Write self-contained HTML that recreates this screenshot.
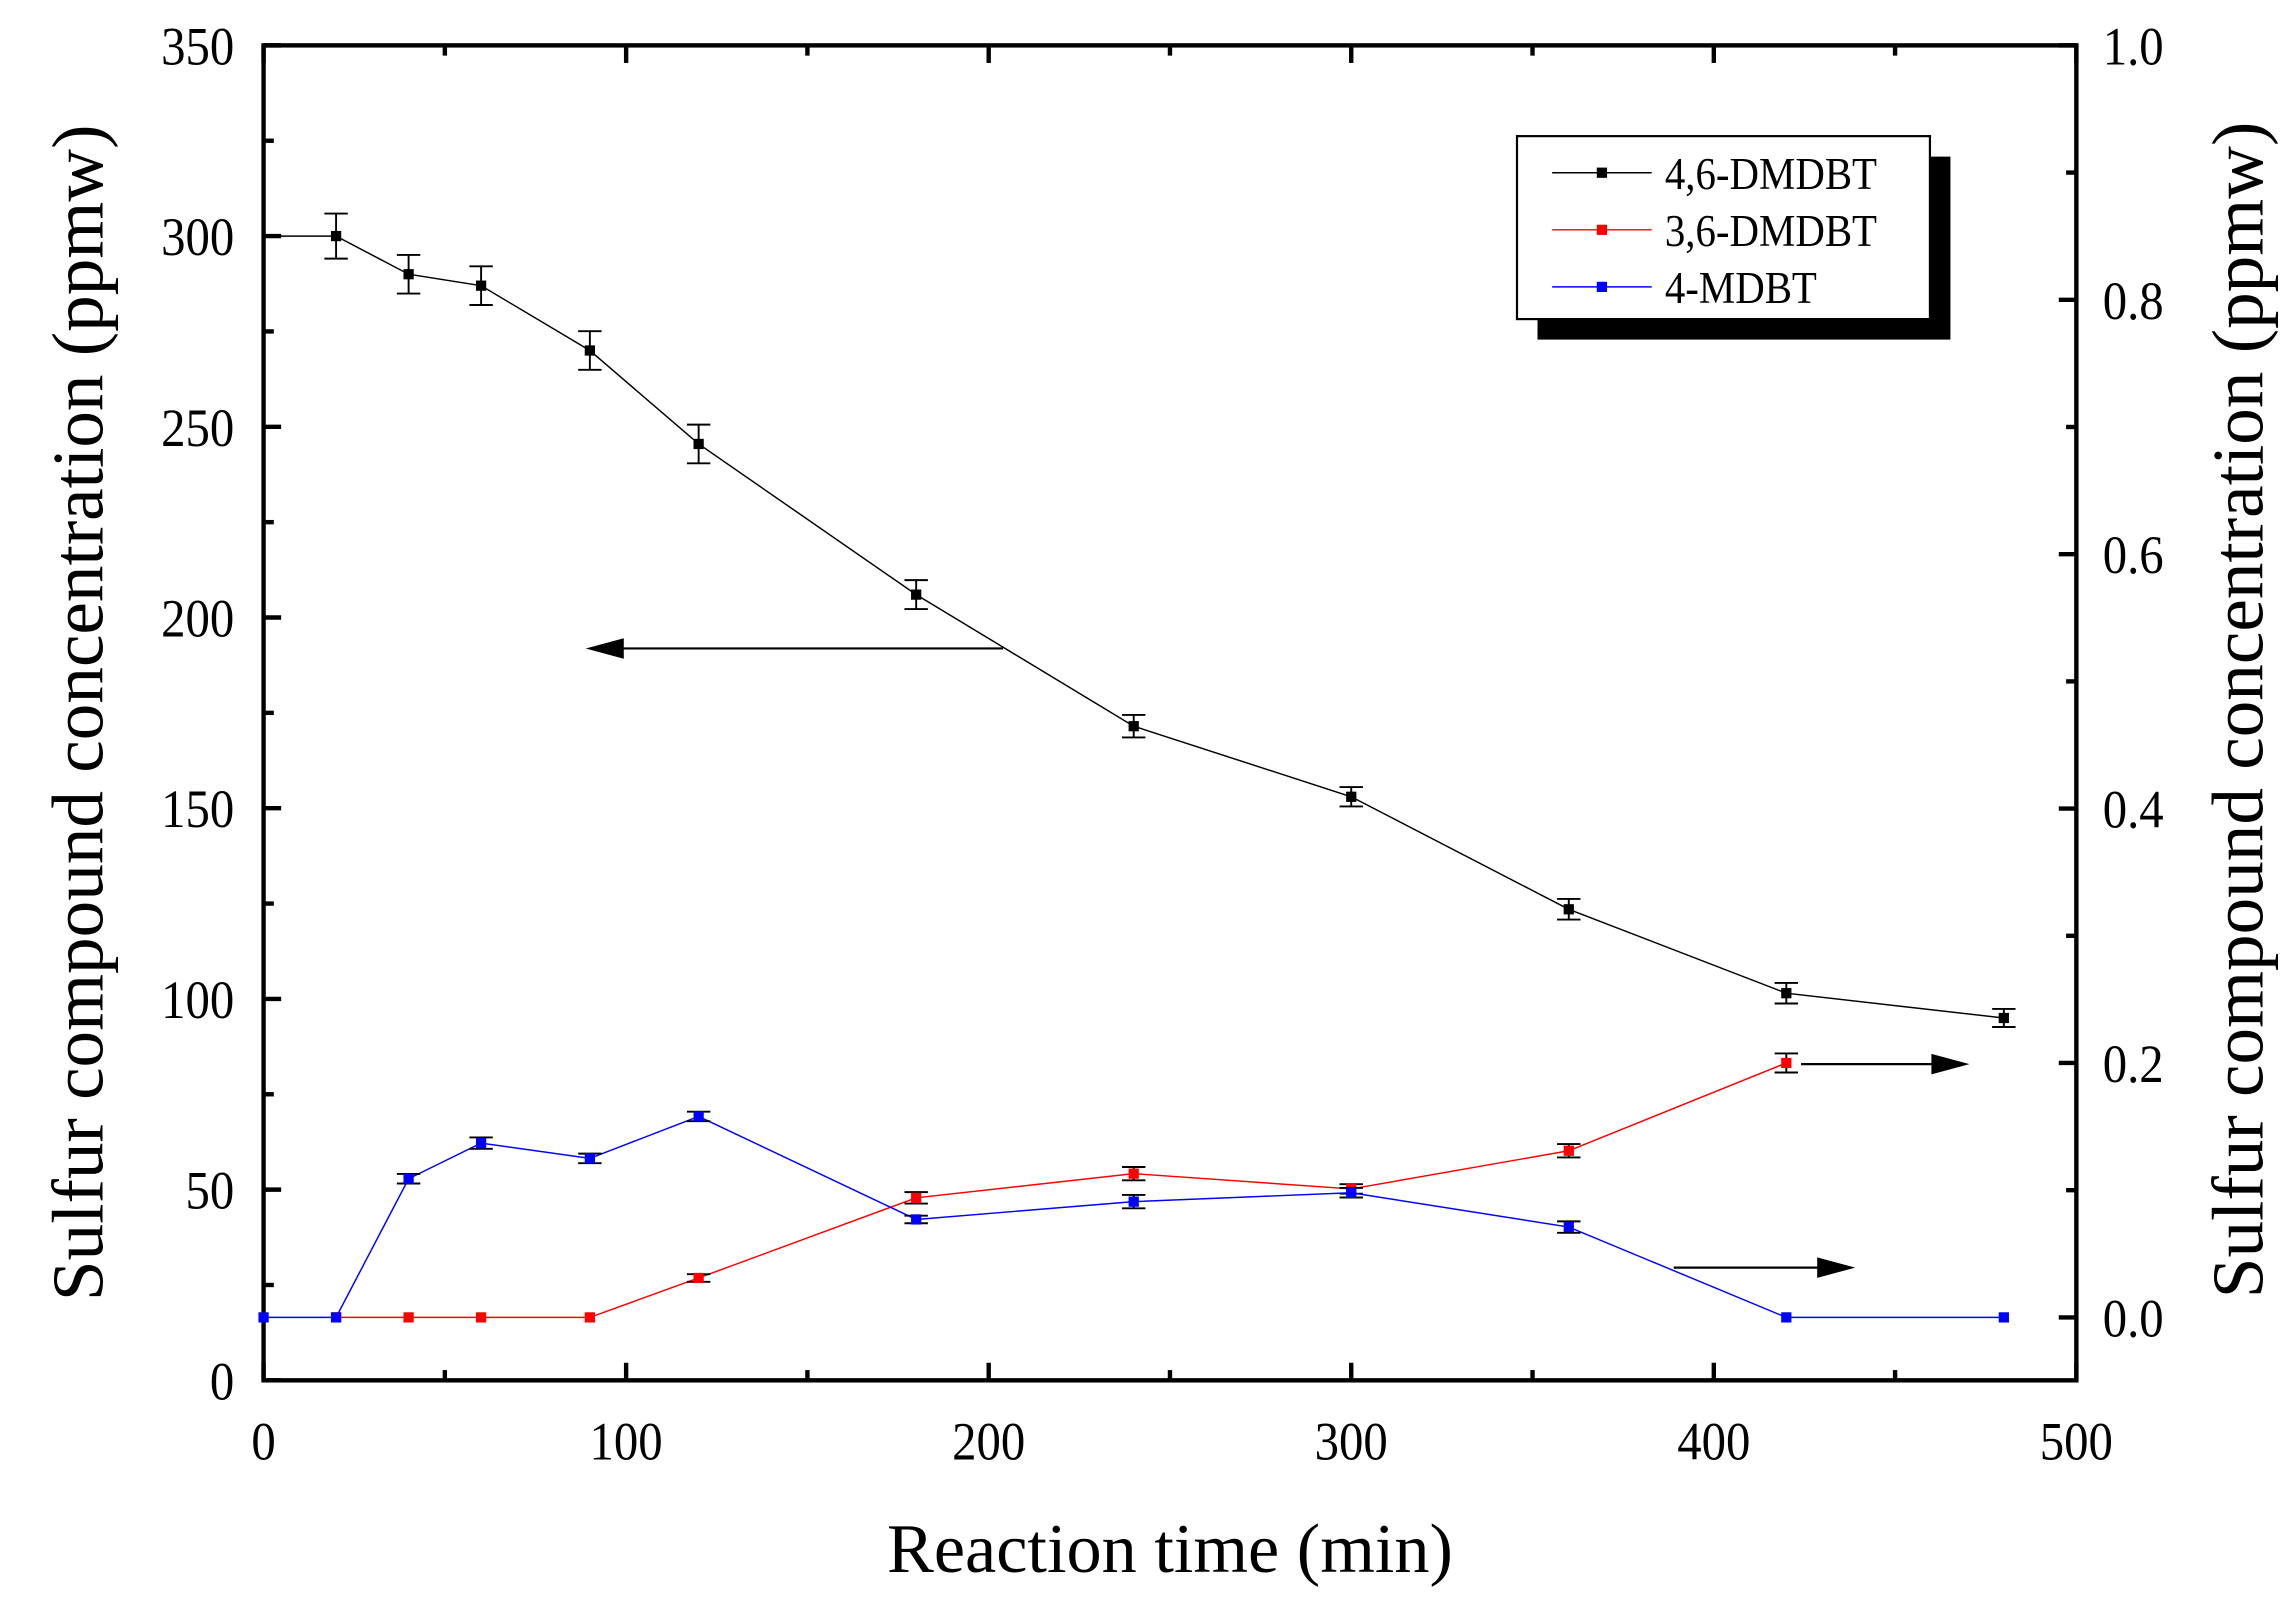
<!DOCTYPE html>
<html><head><meta charset="utf-8"><style>html,body{margin:0;padding:0;background:#fff}svg{display:block}</style></head>
<body>
<svg id="s" width="2296" height="1616" viewBox="0 0 1568 1104" preserveAspectRatio="none" xmlns="http://www.w3.org/2000/svg" font-family="'Liberation Serif', serif">
</svg>
<script>
const s=document.getElementById('s');
let h='';
const X=t=>180+t*1238/500, YL=v=>943-v*912/350, YR=v=>900-v*869;
h+=`<rect x="180" y="31" width="1238" height="912" fill="none" stroke="#000" stroke-width="3"/>`;
for(let t=0;t<=500;t+=50){const x=X(t),L=t%100==0?12:7;
h+=`<line x1="${x}" y1="943" x2="${x}" y2="${943-L}" stroke="#000" stroke-width="3"/><line x1="${x}" y1="31" x2="${x}" y2="${31+L}" stroke="#000" stroke-width="3"/>`;
if(t%100==0)h+=`<text x="${x}" y="997" font-size="37" text-anchor="middle" transform="translate(${x},0) scale(0.9,1) translate(${-x},0)" >${t}</text>`;}
for(let v=0;v<=350;v+=25){const y=YL(v),L=v%50==0?12:7;
h+=`<line x1="180" y1="${y}" x2="${180+L}" y2="${y}" stroke="#000" stroke-width="3"/>`;
if(v%50==0)h+=`<text x="160" y="${y+13}" font-size="37" text-anchor="end" transform="translate(160,0) scale(0.9,1) translate(-160,0)">${v}</text>`;}
for(let i=0;i<=10;i++){const v=i/10,y=YR(v),L=i%2==0?12:7;
h+=`<line x1="1418" y1="${y}" x2="${1418-L}" y2="${y}" stroke="#000" stroke-width="3"/>`;
if(i%2==0)h+=`<text x="1436" y="${y+13}" font-size="37" transform="translate(1436,0) scale(0.9,1) translate(-1436,0)">${v.toFixed(1)}</text>`;}
h+=`<text x="799" y="1074" font-size="48" text-anchor="middle">Reaction time (min)</text>`;
h+=`<text transform="translate(70,487) rotate(-90)" font-size="50" text-anchor="middle">Sulfur compound concentration (ppmw)</text>`;
h+=`<text transform="translate(1545,485) rotate(-90)" font-size="50" text-anchor="middle">Sulfur compound concentration (ppmw)</text>`;
function series(pts,col,Y,k){let d=pts.map((p,i)=>(i?'L':'M')+X(p[0])+' '+Y(p[1])).join(' ');
h+=`<path d="${d}" fill="none" stroke="${col}" stroke-width="1"/>`;
pts.forEach(p=>{const x=X(p[0]),y=Y(p[1]);if(p[2]){const e=p[2]*k;h+=`<path d="M${x} ${y-e}V${y+e}M${x-8} ${y-e}H${x+8}M${x-8} ${y+e}H${x+8}" stroke="#000" stroke-width="1.3" fill="none"/>`;}
if(p[0]>0||col!='#000')h+=`<rect x="${x-3.5}" y="${y-3.5}" width="7" height="7" fill="${col}"/>`;});}
series([[0,300,0],[20,300,7],[40,290,6],[60,287,6],[90,270,6],[120,245.5,6],[180,206,4.5],[240,171.5,3.5],[300,153,3],[360,123.5,3.2],[420,101.5,3.2],[480,95,2.8]],'#000',YL,2.2);
series([[20,0,0],[40,0,0],[60,0,0],[90,0,0],[120,0.031,2],[180,0.094,3],[240,0.113,3.5],[300,0.101,2.5],[360,0.131,3.5],[420,0.2,5]],'#f00',YR,1.3);
series([[0,0,0],[20,0,0],[40,0.109,2.5],[60,0.137,3],[90,0.125,2.5],[120,0.158,2.5],[180,0.077,2],[240,0.091,3.5],[300,0.098,2.5],[360,0.071,3],[420,0,0],[480,0,0]],'#00f',YR,1.3);
function arrow(x1,x2,y){const dir=x2>x1?1:-1;h+=`<line x1="${x1}" y1="${y}" x2="${x2-dir*20}" y2="${y}" stroke="#000" stroke-width="1.5"/><polygon points="${x2},${y} ${x2-dir*26},${y-7} ${x2-dir*26},${y+7}" fill="#000"/>`;}
arrow(685,400,443);arrow(1230,1345,727);arrow(1143,1267,866);
h+=`<rect x="1050" y="107" width="282" height="125" fill="#000"/><rect x="1036" y="93" width="282" height="125" fill="#fff" stroke="#000" stroke-width="1.5"/>`;
[['4,6-DMDBT','#000',118],['3,6-DMDBT','#f00',157],['4-MDBT','#00f',196]].forEach(([n,c,y])=>{h+=`<line x1="1060" y1="${y}" x2="1128" y2="${y}" stroke="${c}" stroke-width="1"/><rect x="${1094-3.5}" y="${y-3.5}" width="7" height="7" fill="${c}"/><text x="1137" y="${y+11}" font-size="31" transform="translate(1137,0) scale(0.9,1) translate(-1137,0)">${n}</text>`;});
s.innerHTML=h;
</script>
</body></html>
